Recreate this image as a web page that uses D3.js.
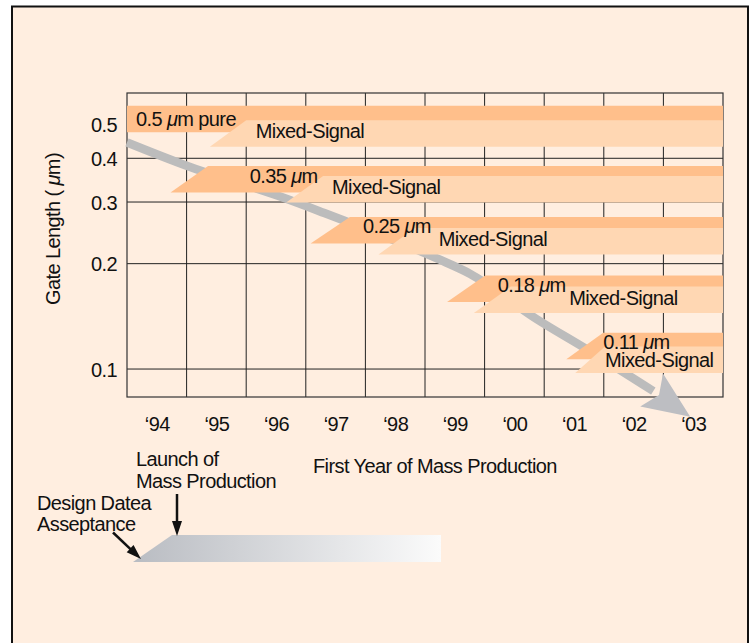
<!DOCTYPE html>
<html>
<head>
<meta charset="utf-8">
<script src="https://cdn.jsdelivr.net/npm/d3@7"></script>
<style>
  html, body { margin: 0; padding: 0; background: #ffffff; }
  #chart { width: 753px; height: 643px; }
  text { letter-spacing: -0.6px; }
</style>
</head>
<body>
<div id="chart"></div>
<script>
// chart data
var years = [1994, 1995, 1996, 1997, 1998, 1999, 2000, 2001, 2002, 2003];
var yTicks = [0.1, 0.2, 0.3, 0.4, 0.5];

var nodeLabels = ["0.5", "0.35", "0.25", "0.18", "0.11"];
var pureSuffix = [" pure", "", "", "", ""];
// pure CMOS band: top edge (gate length), design acceptance year, launch year
var pureTop = [0.565, 0.38, 0.272, 0.185, 0.127];
var pureDesign = [1992.4, 1994.23, 1996.58, 1998.87, 2000.87];
var pureLaunch = [1993.0, 1994.86, 1997.24, 1999.51, 2001.49];
var pureLabelYear = [1993.65, 1995.56, 1997.46, 1999.72, 2001.49];
// mixed-signal band
var mixedTop = [0.514, 0.356, 0.253, 0.172, 0.116];
var mixedDesign = [1994.89, 1996.17, 1997.72, 1999.32, 2001.02];
var mixedLaunch = [1995.50, 1996.79, 1998.33, 1999.94, 2001.52];
var mixedLabelYear = [1995.66, 1996.94, 1998.73, 2000.92, 2001.52];
var mixedBreak = [false, false, false, false, true];

// trend arrow (year, gate length); last point is the tip
var arrowYears = [1993.5, 1994.5, 1996.07, 1996.74, 1998.70, 1999.26, 2000.37, 2001.21, 2002.33, 2002.95];
var arrowValues = [0.444, 0.381, 0.311, 0.282, 0.207, 0.187, 0.139, 0.114, 0.0865, 0.0731];

var font = "'Liberation Sans', Arial, Helvetica, sans-serif";
var fs = 20;

var W = 753, H = 643;
var margin = { top: 93, left: 127, bottom: 246, right: 30 };
var width = W - margin.left - margin.right;   // 596
var height = H - margin.top - margin.bottom;  // 304
var bandH = 26.5;

var root = d3.select("#chart")
    .append("svg")
    .attr("width", W)
    .attr("height", H);

var defs = root.append("defs");
defs.append("clipPath").attr("id", "clip")
    .append("rect").attr("width", width).attr("height", height);
var grad = defs.append("linearGradient").attr("id", "legendGrad")
    .attr("x1", "0%").attr("x2", "100%").attr("y1", "0%").attr("y2", "0%");
grad.append("stop").attr("offset", "0%").attr("stop-color", "#b9bcc2");
grad.append("stop").attr("offset", "100%").attr("stop-color", "#fbfbfb");

// frame
root.append("rect")
    .attr("x", 12).attr("y", 6.5)
    .attr("width", 736).attr("height", 660)
    .style("fill", "#ffeee0")
    .style("stroke", "#111")
    .style("stroke-width", 2);

var svg = root.append("g")
    .attr("transform", "translate(" + margin.left + "," + margin.top + ")");

// scales
var x = d3.scaleLinear().domain([1993.5, 2003.5]).range([0, width]);
var y = d3.scaleLog().domain([0.0832, 0.6146]).range([height, 0]);

// grid
svg.append("g")
    .selectAll("line.h")
    .data(yTicks)
    .enter().append("line")
    .attr("x1", 0).attr("x2", width)
    .attr("y1", function (d) { return y(d); })
    .attr("y2", function (d) { return y(d); })
    .style("stroke", "#222").style("stroke-width", 1);

svg.append("g")
    .selectAll("line.v")
    .data(years.slice(1))
    .enter().append("line")
    .attr("x1", function (d) { return x(d - 0.5); })
    .attr("x2", function (d) { return x(d - 0.5); })
    .attr("y1", 0).attr("y2", height)
    .style("stroke", "#222").style("stroke-width", 1);

svg.append("rect")
    .attr("width", width).attr("height", height)
    .style("fill", "none")
    .style("stroke", "#333").style("stroke-width", 1.2);

// trend arrow shaft
var pts = arrowYears.map(function (d, i) { return [x(d), y(arrowValues[i])]; });
var shaft = pts.slice(0, pts.length - 1);
var shaftLine = d3.line().curve(d3.curveMonotoneX);
svg.append("path")
    .attr("d", shaftLine(shaft))
    .style("fill", "none")
    .style("stroke", "#bcbcbc")
    .style("stroke-width", 8.5);

// arrow head
var B = pts[pts.length - 2], T = pts[pts.length - 1];
var dx = T[0] - B[0], dy = T[1] - B[1], len = Math.sqrt(dx * dx + dy * dy);
var ux = dx / len, uy = dy / len, nx = -uy, ny = ux;
var head = [
    [B[0] + nx * 20 - ux * 2, B[1] + ny * 20 - uy * 2],
    T,
    [B[0] - nx * 20 - ux * 2, B[1] - ny * 20 - uy * 2],
    [B[0] + ux * 7, B[1] + uy * 7]
];
svg.append("path")
    .attr("d", "M" + head.join("L") + "Z")
    .style("fill", "#bdbec2");

// bands
function bandPath(top, design, launch) {
    var yt = y(top), yb = yt + bandH;
    return "M" + x(design) + "," + yb +
        "L" + x(launch) + "," + yt +
        "L" + (width + 1) + "," + yt +
        "L" + (width + 1) + "," + yb + "Z";
}

var bands = svg.append("g").attr("clip-path", "url(#clip)");
nodeLabels.forEach(function (n, i) {
    bands.append("path")
        .attr("d", bandPath(pureTop[i], pureDesign[i], pureLaunch[i]))
        .style("fill", "#ffbf8b");
    bands.append("path")
        .attr("d", bandPath(mixedTop[i], mixedDesign[i], mixedLaunch[i]))
        .style("fill", "#ffd7b3");
});

// band labels
var labels = svg.append("g")
    .style("font-family", font)
    .style("font-size", fs + "px")
    .style("fill", "#111");

nodeLabels.forEach(function (n, i) {
    var t = labels.append("text")
        .attr("x", x(pureLabelYear[i]))
        .attr("y", y(pureTop[i]) + (i === 0 ? 20.5 : 16.5));
    t.append("tspan").text(n + " ");
    t.append("tspan").style("font-style", "italic").text("\u03bc");
    t.append("tspan").text("m" + pureSuffix[i]);

    var m = labels.append("text")
        .attr("x", x(mixedLabelYear[i]))
        .attr("y", y(mixedTop[i]) + (mixedBreak[i] ? 20.5 : 18));
    m.text("Mixed-Signal");
});

// axes
svg.append("g")
    .style("font-family", font)
    .style("font-size", fs + "px")
    .call(d3.axisLeft(y)
        .tickValues(yTicks)
        .tickFormat(d3.format(".1f"))
        .tickSize(0)
        .tickPadding(10))
    .call(function (g) { g.select(".domain").remove(); })
    .call(function (g) { g.selectAll("text").style("fill", "#111").attr("dy", "0.36em"); });

svg.append("g")
    .attr("transform", "translate(0," + height + ")")
    .style("font-family", font)
    .style("font-size", fs + "px")
    .call(d3.axisBottom(x)
        .tickValues(years)
        .tickFormat(function (d) { return "\u2018" + String(d).slice(2); })
        .tickSize(0)
        .tickPadding(20))
    .call(function (g) { g.select(".domain").remove(); })
    .call(function (g) { g.selectAll("text").style("fill", "#111"); });

// axis titles
var yt = root.append("text")
    .attr("transform", "translate(60," + (margin.top + 136) + ") rotate(-90)")
    .style("text-anchor", "middle")
    .style("font-family", font)
    .style("font-size", fs + "px")
    .style("fill", "#111");
yt.append("tspan").text("Gate Length ( ");
yt.append("tspan").style("font-style", "italic").text("\u03bc");
yt.append("tspan").text("m)");

root.append("text")
    .attr("x", 313).attr("y", 473)
    .style("font-family", font)
    .style("font-size", fs + "px")
    .style("fill", "#111")
    .text("First Year of Mass Production");

// legend
var lg = root.append("g")
    .style("font-family", font)
    .style("font-size", fs + "px")
    .style("fill", "#111");

lg.append("path")
    .attr("d", "M133,562L172,535L441,535L441,562Z")
    .style("fill", "url(#legendGrad)");

lg.append("text").attr("x", 136).attr("y", 466).text("Launch of");
lg.append("text").attr("x", 136).attr("y", 488).text("Mass Production");
lg.append("text").attr("x", 37).attr("y", 510).text("Design Datea");
lg.append("text").attr("x", 37).attr("y", 531).text("Asseptance");

function blackArrow(x1, y1, x2, y2) {
    var ddx = x2 - x1, ddy = y2 - y1, l = Math.sqrt(ddx * ddx + ddy * ddy);
    var ax = ddx / l, ay = ddy / l, px = -ay, py = ax;
    var hl = 15, hw = 5;
    var bx = x2 - ax * hl, by = y2 - ay * hl;
    lg.append("line")
        .attr("x1", x1).attr("y1", y1)
        .attr("x2", bx + ax * 2).attr("y2", by + ay * 2)
        .style("stroke", "#111").style("stroke-width", 2.5);
    lg.append("path")
        .attr("d", "M" + x2 + "," + y2 +
            "L" + (bx + px * hw) + "," + (by + py * hw) +
            "L" + (bx - px * hw) + "," + (by - py * hw) + "Z")
        .style("fill", "#111");
}
blackArrow(177, 494, 177, 536);
blackArrow(113, 532.5, 141, 559);
</script>
</body>
</html>
